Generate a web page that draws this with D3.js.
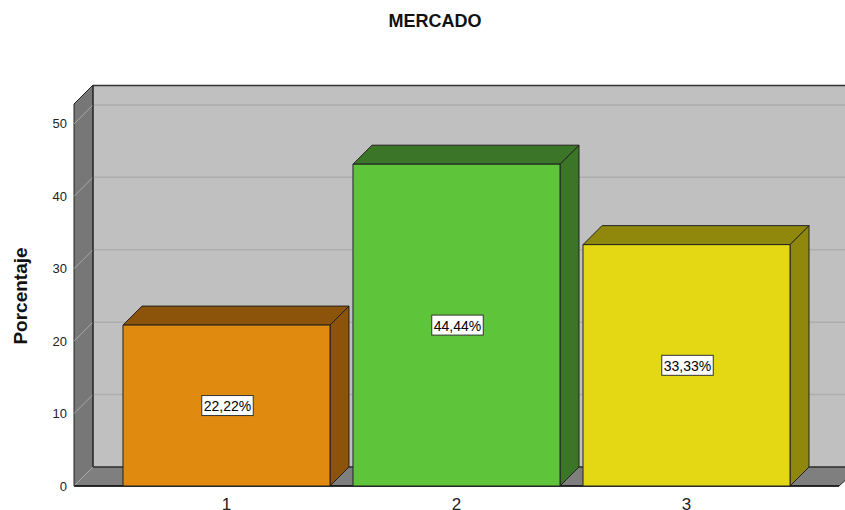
<!DOCTYPE html>
<html><head><meta charset="utf-8">
<script src="https://cdn.jsdelivr.net/npm/d3@7"></script>
<style>body{margin:0;background:#fff}svg{display:block}</style>
</head><body>
<script>
const categories = ["1","2","3"];
const values = [22.22, 44.44, 33.33];
const valueLabels = ["22,22%","44,44%","33,33%"];
const yTicks = [0,10,20,30,40,50];
const frontColors = ["#e08a10","#5ec43a","#e3d813"];
const darkColors = ["#8c540a","#3b7527","#8f880c"];

const W=845,H=510;
const svg=d3.select("body").append("svg").attr("width",W).attr("height",H);
const DX=19, DY=-19;
const y=d3.scaleLinear().domain([0,52.75]).range([486,104]);
const x=d3.scaleBand().domain(categories).range([74,839]).paddingInner(0.1).paddingOuter(0.213);
const x0=74, x1=839, yb=y(0), yt=y(52.75);
const line=d3.line();
const poly=(pts,fill)=>svg.append("path").attr("d",line(pts)+"Z").attr("fill",fill).attr("stroke","#222").attr("stroke-width",1).attr("stroke-linejoin","round");

// back wall
svg.append("rect").attr("x",x0+DX).attr("y",yt+DY).attr("width",W-(x0+DX)+5).attr("height",yb-yt).attr("fill","#c0c0c0");
yTicks.forEach(t=>{ if(t>0) svg.append("line").attr("x1",x0+DX).attr("x2",W).attr("y1",y(t)+DY).attr("y2",y(t)+DY).attr("stroke","#adadad").attr("stroke-width",1.5);});
svg.append("line").attr("x1",x0+DX).attr("x2",W).attr("y1",yt+DY+0.5).attr("y2",yt+DY+0.5).attr("stroke","#333").attr("stroke-width",1.5);
// left wall
poly([[x0,yb],[x0,yt],[x0+DX,yt+DY],[x0+DX,yb+DY]],"#777777");
yTicks.forEach(t=>{ svg.append("line").attr("x1",x0).attr("y1",y(t)).attr("x2",x0+DX).attr("y2",y(t)+DY).attr("stroke","#a8a8a8").attr("stroke-width",1);});
// floor
poly([[x0,yb],[x0+DX,yb+DY],[x1+DX+2,yb+DY],[x1,yb]],"#7f7f7f");
svg.append("line").attr("x1",x0).attr("y1",yb).attr("x2",x0+DX).attr("y2",yb+DY).attr("stroke","#aaa");
svg.append("line").attr("x1",x0+DX).attr("y1",yt+DY).attr("x2",x0+DX).attr("y2",yb+DY).attr("stroke","#222");
svg.append("line").attr("x1",x0+DX).attr("y1",yb+DY).attr("x2",W).attr("y2",yb+DY).attr("stroke","#333");
svg.append("line").attr("x1",x0).attr("y1",yb).attr("x2",x1).attr("y2",yb).attr("stroke","#111").attr("stroke-width",1.5);

// bars
categories.forEach((c,i)=>{
  const bx=x(c), bw=x.bandwidth(), top=y(values[i]);
  poly([[bx+bw,yb],[bx+bw,top],[bx+bw+DX,top+DY],[bx+bw+DX,yb+DY]],darkColors[i]);
  poly([[bx,top],[bx+DX,top+DY],[bx+bw+DX,top+DY],[bx+bw,top]],darkColors[i]);
  poly([[bx,yb],[bx,top],[bx+bw,top],[bx+bw,yb]],frontColors[i]);
});

// value labels
categories.forEach((c,i)=>{
  const cx=x(c)+x.bandwidth()/2+1, cy=(y(values[i])+yb)/2;
  const g=svg.append("g");
  const t=g.append("text").attr("x",cx).attr("y",cy+0.5).attr("text-anchor","middle").attr("dominant-baseline","central")
    .attr("font-family","Liberation Sans, Arial, sans-serif").attr("font-size",14).attr("fill","#000").text(valueLabels[i]);
  const bb=t.node().getBBox();
  g.insert("rect","text").attr("x",bb.x-2).attr("y",cy-10).attr("width",bb.width+4).attr("height",20).attr("fill","#fff").attr("stroke","#333").attr("stroke-width",1);
});

// y tick labels
yTicks.forEach(t=>{
  svg.append("text").attr("x",67).attr("y",y(t)).attr("text-anchor","end").attr("dominant-baseline","central")
    .attr("font-family","Liberation Sans, Arial, sans-serif").attr("font-size",13).attr("fill","#222").text(t);
});
// x labels
categories.forEach(c=>{
  svg.append("text").attr("x",x(c)+x.bandwidth()/2).attr("y",510).attr("text-anchor","middle")
    .attr("font-family","Liberation Sans, Arial, sans-serif").attr("font-size",17).attr("fill","#222").text(c);
});
// titles
svg.append("text").attr("x",435).attr("y",27).attr("text-anchor","middle").attr("font-family","Liberation Sans, Arial, sans-serif")
  .attr("font-weight","bold").attr("font-size",18).attr("fill","#111").text("MERCADO");
svg.append("text").attr("transform","translate(27,296) rotate(-90)").attr("text-anchor","middle").attr("font-family","Liberation Sans, Arial, sans-serif")
  .attr("font-weight","bold").attr("font-size",19).attr("fill","#111").text("Porcentaje");
</script>
</body></html>
